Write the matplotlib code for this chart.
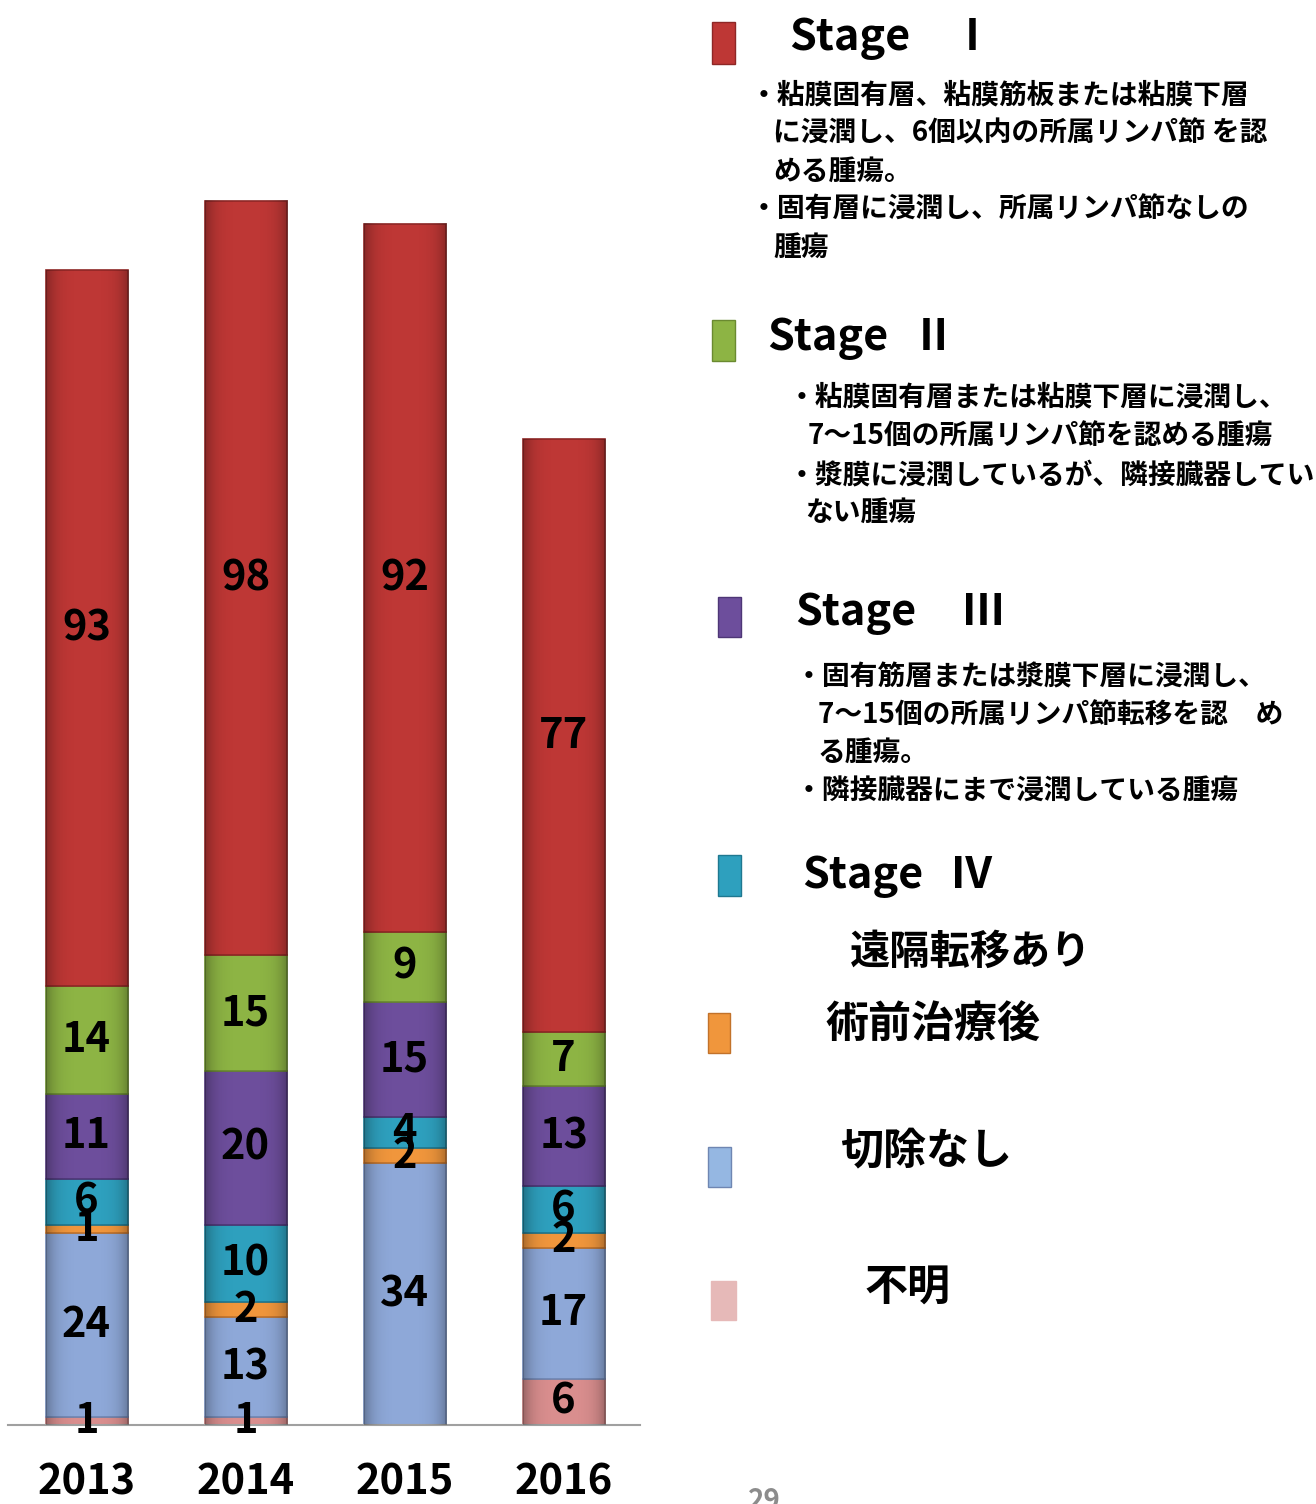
import matplotlib
matplotlib.use("Agg")
import matplotlib.pyplot as plt
import numpy as np
from matplotlib.patches import Rectangle

plt.rcParams['font.family'] = ['Noto Sans CJK JP', 'DejaVu Sans']

years = ["2013", "2014", "2015", "2016"]
# stacked bottom -> top
unknown = [1, 1, 0, 6]          # 不明
no_resect = [24, 13, 34, 17]    # 切除なし
neoadj = [1, 2, 2, 2]           # 術前治療後
stage4 = [6, 10, 4, 6]
stage3 = [11, 20, 15, 13]
stage2 = [14, 15, 9, 7]
stage1 = [93, 98, 92, 77]

series = [unknown, no_resect, neoadj, stage4, stage3, stage2, stage1]
colors = ["#D98E8E", "#8EA8D8", "#F0963C", "#2EA0BE", "#6D4E9C", "#8DB444", "#BE3735"]
edges = ["#B07070", "#6F86B2", "#C2722A", "#1F7890", "#4E3676", "#6A8A30", "#8E2726"]

W, H = 1316, 1504
fig = plt.figure(figsize=(W / 100, H / 100), dpi=100)

# chart area
ax = fig.add_axes([8 / W, 1 - 1425 / H, (640 - 8) / W, 1425 / H])
x = np.arange(len(years))
bw = 0.516
bottom = np.zeros(len(years))
for vals, c, ec in zip(series, colors, edges):
    ax.bar(x, vals, width=bw, bottom=bottom, color=c, edgecolor=ec, linewidth=1.2, zorder=2)
    for xi, b, v in zip(x, bottom, vals):
        if v > 0:
            ax.text(xi, b + v / 2, str(v), ha="center", va="center",
                    fontsize=30, fontweight="bold", color="black", zorder=5)
    bottom = bottom + np.array(vals)

# soft shading across each bar for the bevel look
t = np.linspace(-1, 1, 60)
shade = np.zeros((1, len(t), 4))
shade[0, :, 3] = 0.28 * np.abs(t) ** 4
for xi, tot in zip(x, bottom):
    ax.imshow(shade, extent=(xi - bw / 2, xi + bw / 2, 0, tot), aspect="auto", zorder=3,
              interpolation="bilinear")

ax.set_xlim(-0.494, 3.48)
ax.set_ylim(0, 1425 / 7.7)
for s in ["top", "left", "right"]:
    ax.spines[s].set_visible(False)
ax.spines["bottom"].set_color("#A0A0A0")
ax.spines["bottom"].set_linewidth(1.5)
ax.set_yticks([])
ax.set_xticks(x)
ax.set_xticklabels(years, fontsize=30, fontweight="bold")
ax.tick_params(axis="x", length=0, pad=26)
ax.patch.set_alpha(0)


def ftext(px, py, s, **kw):
    fig.text(px / W, 1 - py / H, s, **kw)


def marker(x0, y0, x1, y1, c, ec):
    fig.add_artist(Rectangle((x0 / W, 1 - y1 / H), (x1 - x0) / W, (y1 - y0) / H,
                             transform=fig.transFigure, facecolor=c, edgecolor=ec, linewidth=1))


desc_kw = dict(fontsize=20, fontweight="bold", va="center", ha="left")
head_kw = dict(fontsize=31, fontweight="bold", va="baseline", ha="left")
big_kw = dict(fontsize=31, fontweight="bold", va="center", ha="left")

# Stage I
marker(712, 22, 735, 64, colors[6], edges[6])
ftext(789, 50, "Stage", **head_kw)
ftext(951, 50, "Ⅰ", **head_kw)
ftext(750, 96, "・粘膜固有層、粘膜筋板または粘膜下層", **desc_kw)
ftext(773, 133, "に浸潤し、6個以内の所属リンパ節 を認", **desc_kw)
ftext(773, 172, "める腫瘍。", **desc_kw)
ftext(750, 210, "・固有層に浸潤し、所属リンパ節なしの", **desc_kw)
ftext(773, 248, "腫瘍", **desc_kw)

# Stage II
marker(712, 320, 735, 361, colors[5], edges[5])
ftext(767, 350, "Stage", **head_kw)
ftext(912, 350, "Ⅱ", **head_kw)
ftext(788, 398, "・粘膜固有層または粘膜下層に浸潤し、", **desc_kw)
ftext(808, 437, "7～15個の所属リンパ節を認める腫瘍", **desc_kw)
ftext(788, 475, "・漿膜に浸潤しているが、隣接臓器してい", **desc_kw)
ftext(805, 513, "ない腫瘍", **desc_kw)

# Stage III
marker(718, 597, 741, 637, colors[4], edges[4])
ftext(795, 625, "Stage", **head_kw)
ftext(962, 625, "Ⅲ", **head_kw)
ftext(795, 677, "・固有筋層または漿膜下層に浸潤し、", **desc_kw)
ftext(818, 715, "7～15個の所属リンパ節転移を認　め", **desc_kw)
ftext(818, 753, "る腫瘍。", **desc_kw)
ftext(795, 791, "・隣接臓器にまで浸潤している腫瘍", **desc_kw)

# Stage IV
marker(718, 855, 741, 896, colors[3], edges[3])
ftext(802, 888, "Stage", **head_kw)
ftext(950, 888, "Ⅳ", **head_kw)
ftext(850, 952, "遠隔転移あり", fontsize=29, fontweight="bold", va="center", ha="left")

# others
marker(708, 1013, 730, 1053, colors[2], edges[2])
ftext(825, 1025, "術前治療後", **big_kw)
marker(708, 1147, 731, 1187, "#95B7E2", edges[1])
ftext(840, 1150, "切除なし", **big_kw)
marker(711, 1281, 736, 1320, "#E6B9B8", "#E6B9B8")
ftext(865, 1287, "不明", **big_kw)

ftext(748, 1487, "29", fontsize=20, fontweight="bold", color="#8C8C8C", va="top", ha="left")

fig.savefig("out.png", dpi=100)
